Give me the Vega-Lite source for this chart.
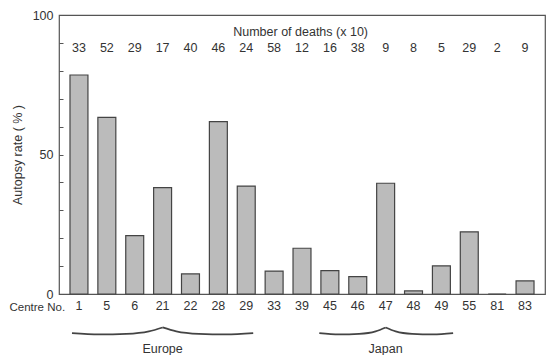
{
  "$schema": "https://vega.github.io/schema/vega-lite/v6.json",
  "width": 486,
  "height": 279,
  "autosize": {"type": "none"},
  "padding": {"left": 59, "top": 15, "right": 4, "bottom": 61},
  "config": {
    "view": {"stroke": "#555", "strokeWidth": 1.2},
    "font": "Liberation Sans",
    "axis": {"labelColor": "#333", "titleColor": "#333", "labelFontSize": 12.5, "titleFontSize": 12.5, "titleFontWeight": "normal", "grid": false, "domain": false, "labelOverlap": false}
  },
  "datasets": {
    "centres": [
      {"centre": "1", "rate": 78.5, "deaths": 33},
      {"centre": "5", "rate": 63.3, "deaths": 52},
      {"centre": "6", "rate": 20.9, "deaths": 29},
      {"centre": "21", "rate": 38.1, "deaths": 17},
      {"centre": "22", "rate": 7.2, "deaths": 40},
      {"centre": "28", "rate": 61.8, "deaths": 46},
      {"centre": "29", "rate": 38.7, "deaths": 24},
      {"centre": "33", "rate": 8.2, "deaths": 58},
      {"centre": "39", "rate": 16.4, "deaths": 12},
      {"centre": "45", "rate": 8.4, "deaths": 16},
      {"centre": "46", "rate": 6.2, "deaths": 38},
      {"centre": "47", "rate": 39.7, "deaths": 9},
      {"centre": "48", "rate": 1.1, "deaths": 8},
      {"centre": "49", "rate": 10.1, "deaths": 5},
      {"centre": "55", "rate": 22.3, "deaths": 29},
      {"centre": "81", "rate": 0, "deaths": 2},
      {"centre": "83", "rate": 4.7, "deaths": 9}
    ],
    "braces": [
      {"part": "EL", "k": 0, "bx": -0.25, "by": -14.0},
      {"part": "EL", "k": 1, "bx": 0.725, "by": -14.5},
      {"part": "EL", "k": 2, "bx": 1.7, "by": -14.3},
      {"part": "EL", "k": 3, "bx": 2.51, "by": -13.4},
      {"part": "EL", "k": 4, "bx": 3.0, "by": -12.0},
      {"part": "ER", "k": 0, "bx": 3.0, "by": -12.0},
      {"part": "ER", "k": 1, "bx": 3.49, "by": -13.4},
      {"part": "ER", "k": 2, "bx": 4.3, "by": -14.3},
      {"part": "ER", "k": 3, "bx": 5.275, "by": -14.5},
      {"part": "ER", "k": 4, "bx": 6.25, "by": -14.0},
      {"part": "JL", "k": 0, "bx": 8.62, "by": -14.0},
      {"part": "JL", "k": 1, "bx": 9.33, "by": -14.5},
      {"part": "JL", "k": 2, "bx": 10.05, "by": -14.3},
      {"part": "JL", "k": 3, "bx": 10.64, "by": -13.4},
      {"part": "JL", "k": 4, "bx": 11.0, "by": -12.0},
      {"part": "JR", "k": 0, "bx": 11.0, "by": -12.0},
      {"part": "JR", "k": 1, "bx": 11.36, "by": -13.4},
      {"part": "JR", "k": 2, "bx": 11.95, "by": -14.3},
      {"part": "JR", "k": 3, "bx": 12.7, "by": -14.5},
      {"part": "JR", "k": 4, "bx": 13.42, "by": -14.0}
    ],
    "notes": [
      {"label": "Number of deaths (x 10)", "nx": 7.95, "ny": 94},
      {"label": "Europe", "nx": 3.0, "ny": -19.7},
      {"label": "Japan", "nx": 11.0, "ny": -19.7}
    ]
  },
  "layer": [
    {
      "layer": [
        {
          "data": {"name": "centres"},
          "mark": {"type": "bar", "fill": "#bbbbbb", "stroke": "#444", "strokeWidth": 1.2},
          "encoding": {
            "x": {
              "field": "centre", "type": "ordinal", "sort": null,
              "scale": {"paddingInner": 0.356, "paddingOuter": 0.394},
              "axis": {"labelAngle": 0, "ticks": false, "tickSize": 0, "labelPadding": 5, "title": "Centre No.", "titleFontSize": 11.5, "titleAlign": "left", "titleX": -50, "titleY": 7, "titleBaseline": "top"}
            },
            "y": {
              "field": "rate", "type": "quantitative",
              "scale": {"domain": [0, 100], "nice": false},
              "axis": {"values": [0, 10, 20, 30, 40, 50, 60, 70, 80, 90, 100], "labelOverlap": false, "labelExpr": "datum.value % 50 === 0 ? datum.label : ''", "tickSize": -4, "tickColor": "#555", "labelPadding": 10, "title": "Autopsy rate ( % )", "titleX": -42, "titleY": 139.5, "titleBaseline": "middle"}
            }
          }
        },
        {
          "data": {"name": "centres"},
          "mark": {"type": "text", "fontSize": 12.5, "color": "#333", "baseline": "middle"},
          "encoding": {
            "x": {"field": "centre", "type": "ordinal", "sort": null},
            "y": {"datum": 88.2, "type": "quantitative",
              "axis": {"values": [0, 10, 20, 30, 40, 50, 60, 70, 80, 90, 100], "labelOverlap": false, "labelExpr": "datum.value % 50 === 0 ? datum.label : ''", "tickSize": -4, "tickColor": "#555", "labelPadding": 10, "title": "Autopsy rate ( % )", "titleX": -42, "titleY": 139.5, "titleBaseline": "middle"}},
            "text": {"field": "deaths"}
          }
        }
      ]
    },
    {
      "layer": [
        {
          "data": {"name": "braces"},
          "mark": {"type": "line", "interpolate": "monotone", "stroke": "#444", "strokeWidth": 1.8},
          "encoding": {
            "x": {"field": "bx", "type": "quantitative", "scale": {"domain": [-0.716, 16.716], "nice": false, "zero": false}, "axis": null},
            "y": {"field": "by", "type": "quantitative",
              "axis": {"values": [0, 10, 20, 30, 40, 50, 60, 70, 80, 90, 100], "labelOverlap": false, "labelExpr": "datum.value % 50 === 0 ? datum.label : ''", "tickSize": -4, "tickColor": "#555", "labelPadding": 10, "title": "Autopsy rate ( % )", "titleX": -42, "titleY": 139.5, "titleBaseline": "middle"}},
            "detail": {"field": "part"},
            "order": {"field": "k"}
          }
        },
        {
          "data": {"name": "notes"},
          "mark": {"type": "text", "fontSize": 12.5, "color": "#333", "baseline": "middle"},
          "encoding": {
            "x": {"field": "nx", "type": "quantitative", "axis": null},
            "y": {"field": "ny", "type": "quantitative",
              "axis": {"values": [0, 10, 20, 30, 40, 50, 60, 70, 80, 90, 100], "labelOverlap": false, "labelExpr": "datum.value % 50 === 0 ? datum.label : ''", "tickSize": -4, "tickColor": "#555", "labelPadding": 10, "title": "Autopsy rate ( % )", "titleX": -42, "titleY": 139.5, "titleBaseline": "middle"}},
            "text": {"field": "label"}
          }
        }
      ]
    }
  ],
  "resolve": {"scale": {"x": "independent"}}
}
